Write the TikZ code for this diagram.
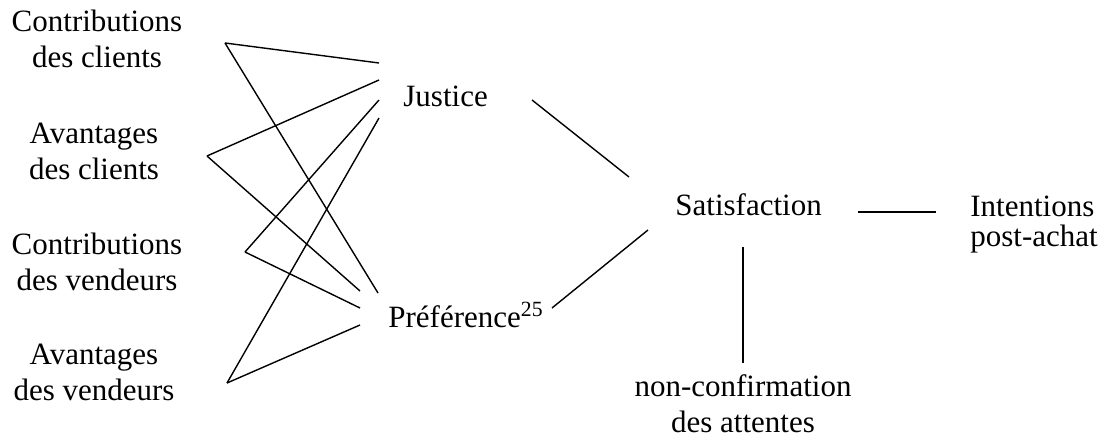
\documentclass[tikz,border=0pt]{standalone}
\usepackage{fontspec}
\setmainfont{Liberation Serif}
\usepackage{tikz}
\usetikzlibrary{calc}

\tikzset{
	lab/.style={inner sep=0pt, font=\fontsize{15.5pt}{18pt}\selectfont},
	cause/.style={lab, align=center, anchor=base},
	link/.style={line width=0.7pt}
}

\begin{document}
\begin{tikzpicture}[x=0.5pt,y=-0.5pt]
			\useasboundingbox (0,0) rectangle (1112,443);
			% antecedents (base = last line)
			\node[cause] (contc) at (97,68) {Contributions\\des clients};
			\node[cause] (avc) at (94,180) {Avantages\\des clients};
			\node[cause] (contv) at (97,290) {Contributions\\des vendeurs};
			\node[cause] (avv) at (94,400) {Avantages\\des vendeurs};
			\node[lab, anchor=base west] (just) at (403,107) {Justice};
			\node[lab, anchor=base west] (pref) at (388,327) {Pr\'ef\'erence\textsuperscript{25}};
			\node[lab, anchor=base west] (satis) at (675,215) {Satisfaction};
			\node[lab, anchor=base west, align=left] (inten) at (970,246) {Intentions\\[-3pt]post-achat};
			\node[cause] (nonconf) at (743,432) {non-confirmation\\des attentes};
			%
			\coordinate (cc) at (225,43);
			\coordinate (ac) at (207,156);
			\coordinate (cv) at (245,252);
			\coordinate (av) at (227,383);
			\coordinate (j1) at (379,63);
			\coordinate (j2) at (379,80);
			\coordinate (j3) at (379,100);
			\coordinate (j4) at (379,118);
			\coordinate (p1) at (378,293);
			\coordinate (p2) at (360,291);
			\coordinate (p3) at (360,308);
			\coordinate (p4) at (360,325);
			\draw[link] (cc)--(j1);
			\draw[link] (cc)--(p1);
			\draw[link] (ac)--(j2);
			\draw[link] (ac)--(p2);
			\draw[link] (cv)--(j3);
			\draw[link] (cv)--(p3);
			\draw[link] (av)--(j4);
			\draw[link] (av)--(p4);
			%
			\coordinate (js) at (532,100);
			\coordinate (sj) at (629,177);
			\coordinate (ps) at (552,308);
			\coordinate (sp) at (648,230);
			\coordinate (sn) at (743,247);
			\coordinate (ns) at (743,363);
			\coordinate (si) at (858,212);
			\coordinate (is) at (936,212);
			\draw[link] (js)--(sj);
			\draw[link] (ps)--(sp);
			\draw[link] (sn)--(ns);
			\draw[link] (si)--(is);
		\end{tikzpicture}
\end{document}
